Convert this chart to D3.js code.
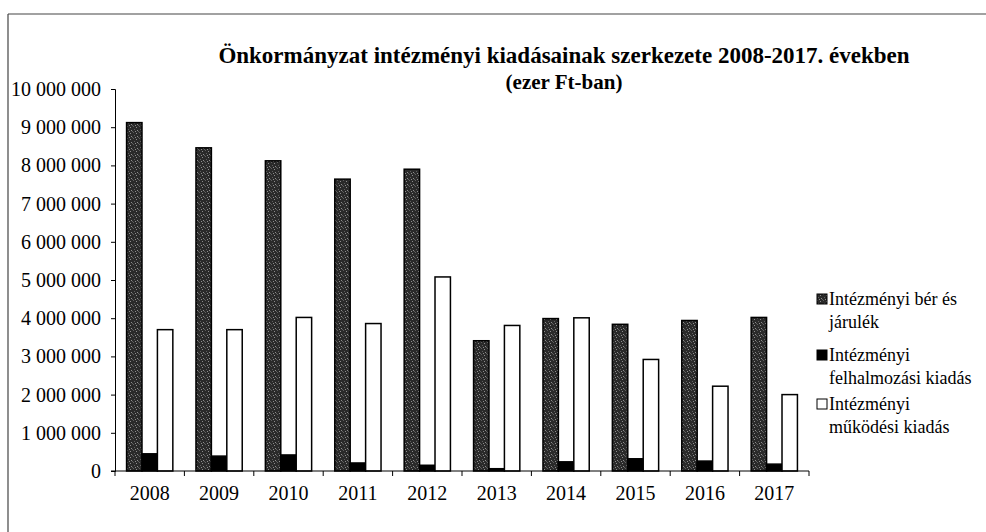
<!DOCTYPE html>
<html><head><meta charset="utf-8">
<script src="https://cdn.jsdelivr.net/npm/d3@7"></script>
<style>
body{margin:0;background:#fff}
svg{display:block}
text{font-family:"Liberation Serif","Times New Roman",serif;fill:#000}
</style>
</head><body>
<svg id="c" width="986" height="532"></svg>
<script>
// ---- data (ezer Ft) ----
const years = ["2008","2009","2010","2011","2012","2013","2014","2015","2016","2017"];
const berJarulek   = [9120000, 8460000, 8120000, 7640000, 7900000, 3410000, 3990000, 3840000, 3940000, 4020000];
const felhalmozasi = [450000, 390000, 420000, 210000, 150000, 60000, 240000, 320000, 260000, 180000];
const mukodesi     = [3700000, 3700000, 4020000, 3860000, 5080000, 3810000, 4010000, 2920000, 2220000, 2000000];
const yTicks = [0,1000000,2000000,3000000,4000000,5000000,6000000,7000000,8000000,9000000,10000000];
const titleLines = ["Önkormányzat intézményi kiadásainak szerkezete 2008-2017. években", "(ezer Ft-ban)"];
const legendLines = [["Intézményi bér és","járulék"],["Intézményi","felhalmozási kiadás"],["Intézményi","működési kiadás"]];

const series = [berJarulek, felhalmozasi, mukodesi];
const fills = ["url(#speckle)", "#000", "#fff"];

const svg = d3.select("#c");

// speckled dark pattern
const defs = svg.append("defs");
const pat = defs.append("pattern").attr("id","speckle").attr("width",6).attr("height",6)
  .attr("patternUnits","userSpaceOnUse");
pat.append("rect").attr("width",6).attr("height",6).attr("fill","#2a2a2a");
[[1,0],[4,1],[2,3],[5,4],[0,5],[3,5]].forEach(([a,b],i)=>{
  pat.append("rect").attr("x",a).attr("y",b).attr("width",1).attr("height",1)
     .attr("fill", i%2 ? "#8c8c8c" : "#5e5e5e");
});

// frame
svg.append("line").attr("x1",8).attr("y1",14).attr("x2",986).attr("y2",14).attr("stroke","#444").attr("stroke-width",1.2);
svg.append("line").attr("x1",8).attr("y1",14).attr("x2",8).attr("y2",532).attr("stroke","#444").attr("stroke-width",1.2);

// scales
const x0 = d3.scaleBand().domain(years).range([115, 809]).paddingInner(1/3).paddingOuter(1/6);
const x1 = d3.scaleBand().domain([0,1,2]).range([0, x0.bandwidth()]);
const y = d3.scaleLinear().domain([0, 10000000]).range([471, 89]);

const loc = d3.formatLocale({decimal:",", thousands:" ", grouping:[3], currency:["",""]});
const fmt = loc.format(",");

// y axis
const ya = svg.append("g").attr("transform","translate(115,0)")
  .call(d3.axisLeft(y).tickValues(yTicks).tickSize(4).tickPadding(10).tickFormat(fmt));
ya.select(".domain").attr("stroke","#000");
ya.selectAll("text").attr("font-size",20).attr("font-family","Liberation Serif");

// bars
const g = svg.append("g");
years.forEach((yr, i) => {
  series.forEach((s, j) => {
    g.append("rect")
      .attr("x", x0(yr) + x1(j))
      .attr("y", y(s[i]))
      .attr("width", x1.bandwidth())
      .attr("height", y(0) - y(s[i]))
      .attr("fill", fills[j])
      .attr("stroke", "#000")
      .attr("stroke-width", 1.5);
  });
});

// x axis
const step = x0.step();
const xStart = x0(years[0]) - step * x0.paddingOuter();
svg.append("line").attr("x1",111).attr("x2",x0.range()[1]).attr("y1",y(0)).attr("y2",y(0)).attr("stroke","#000");
d3.range(years.length + 1).forEach(k => {
  const xx = xStart + k * step;
  svg.append("line").attr("x1",xx).attr("x2",xx).attr("y1",y(0)).attr("y2",y(0)+5).attr("stroke","#000");
});
const xa = svg.append("g").attr("transform",`translate(0,${y(0)})`)
  .call(d3.axisBottom(x0).tickSize(0).tickPadding(15));
xa.select(".domain").remove();
xa.selectAll("text").attr("font-size",20).attr("font-family","Liberation Serif");

// title
svg.append("text").attr("x",564).attr("y",63).attr("text-anchor","middle")
  .attr("font-size",23).attr("font-weight","bold").text(titleLines[0]);
svg.append("text").attr("x",564).attr("y",89).attr("text-anchor","middle")
  .attr("font-size",21).attr("font-weight","bold").text(titleLines[1]);

// legend
const legY = [305, 361, 410];
legendLines.forEach((lines, j) => {
  svg.append("rect").attr("x",817).attr("y",legY[j]-11).attr("width",10).attr("height",10)
    .attr("fill",fills[j]).attr("stroke","#000").attr("stroke-width",1);
  lines.forEach((t, k) => {
    svg.append("text").attr("x",829).attr("y",legY[j] + k*23).attr("font-size",18).text(t);
  });
});
</script>
</body></html>
